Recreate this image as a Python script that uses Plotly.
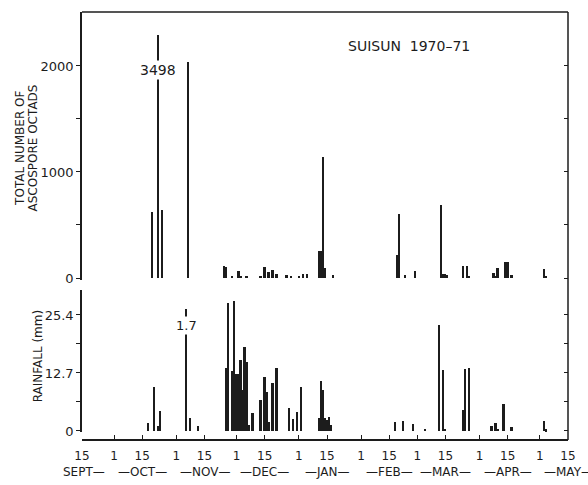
import plotly.graph_objects as go

# ---------------- data ----------------
octad_dates = ["1970-10-20", "1970-10-23", "1970-10-25", "1970-11-07",
               "1970-11-25", "1970-11-26", "1970-11-29", "1970-12-02", "1970-12-03", "1970-12-06",
               "1970-12-13", "1970-12-15", "1970-12-17", "1970-12-19", "1970-12-21",
               "1970-12-26", "1970-12-28", "1971-01-01", "1971-01-03", "1971-01-05",
               "1971-01-11", "1971-01-12", "1971-01-13", "1971-01-14", "1971-01-18",
               "1971-02-19", "1971-02-20", "1971-02-23", "1971-02-28",
               "1971-03-13", "1971-03-14", "1971-03-15", "1971-03-16",
               "1971-03-24", "1971-03-26", "1971-03-27",
               "1971-04-08", "1971-04-09", "1971-04-10", "1971-04-14", "1971-04-15", "1971-04-17",
               "1971-05-03", "1971-05-04"]
octad_vals = [625, 3498, 640, 2040,
              110, 100, 15, 70, 20, 15,
              15, 100, 55, 75, 40,
              30, 10, 10, 40, 40,
              250, 250, 1145, 95, 30,
              215, 600, 25, 70,
              690, 35, 40, 30,
              115, 110, 20,
              50, 20, 95, 150, 150, 30,
              85, 20]

rain_dates = ["1970-10-18", "1970-10-21", "1970-10-23", "1970-10-24",
              "1970-11-06", "1970-11-08", "1970-11-12",
              "1970-11-26", "1970-11-27", "1970-11-29", "1970-11-30",
              "1970-12-01", "1970-12-02", "1970-12-03", "1970-12-04", "1970-12-05", "1970-12-06",
              "1970-12-07", "1970-12-09", "1970-12-13", "1970-12-15", "1970-12-16", "1970-12-17",
              "1970-12-19", "1970-12-21", "1970-12-27", "1970-12-29", "1970-12-31",
              "1971-01-02", "1971-01-11", "1971-01-12", "1971-01-13", "1971-01-14",
              "1971-01-15", "1971-01-16", "1971-01-17",
              "1971-02-18", "1971-02-22", "1971-02-27", "1971-03-05",
              "1971-03-12", "1971-03-14", "1971-03-15",
              "1971-03-24", "1971-03-25", "1971-03-27",
              "1971-04-07", "1971-04-09", "1971-04-10", "1971-04-13", "1971-04-17",
              "1971-05-03", "1971-05-04"]
rain_vals = [1.7, 9.6, 1.0, 4.4,
             43.2, 2.9, 1.1,
             13.7, 28.0, 13.2, 28.5,
             12.4, 12.4, 15.5, 9.0, 18.5, 15.2,
             1.3, 3.9, 6.8, 11.9, 8.6, 2.0,
             10.6, 13.7, 5.0, 2.6, 4.2,
             9.7, 2.8, 11.0, 9.0, 2.8,
             2.5, 3.1, 1.3,
             2.0, 2.2, 1.6, 0.5,
             23.1, 13.4, 0.5,
             4.5, 13.6, 13.9,
             1.0, 1.8, 0.5, 6.0, 0.9,
             2.2, 0.4]

tick_dates = ["1970-09-15", "1970-10-01", "1970-10-15", "1970-11-01", "1970-11-15",
              "1970-12-01", "1970-12-15", "1971-01-01", "1971-01-15", "1971-02-01",
              "1971-02-15", "1971-03-01", "1971-03-15", "1971-04-01", "1971-04-15",
              "1971-05-01", "1971-05-15"]
tick_labels = ["15", "1", "15", "1", "15", "1", "15", "1", "15", "1",
               "15", "1", "15", "1", "15", "1", "15"]
month_dates = ["1970-09-16", "1970-10-15", "1970-11-15", "1970-12-15", "1971-01-15",
               "1971-02-15", "1971-03-15", "1971-04-15", "1971-05-15"]
month_labels = ["SEPT\u2014", "\u2014OCT\u2014", "\u2014NOV\u2014", "\u2014DEC\u2014",
                "\u2014JAN\u2014", "\u2014FEB\u2014", "\u2014MAR\u2014", "\u2014APR\u2014",
                "\u2014MAY\u2014"]

octad_ticks = [0, 500, 1000, 1500, 2000]
octad_ticktext = ["0", "", "1000", "", "2000"]
rain_ticks = [0, 6.35, 12.7, 19.05, 25.4]
rain_ticktext = ["0", "", "12.7", "", "25.4"]

# ---------------- style ----------------
INK = "#1c1c1c"
FONT = "DejaVu Sans"
DAY_MS = 86400000
BAR_W = 0.85 * DAY_MS

top_range = [-19, 2509]
bot_range = [-0.22, 30.87]
top_dom = [0.3738, 1.0]
bot_dom = [0.0187, 0.3505]

# bars taller than the axis are drawn broken at these heights
OCTAD_CAP = 2290
RAIN_CAP = 26.7


def shown(v, axis_max, cap):
    return cap if v > axis_max else v


fig = go.Figure()
fig.add_bar(x=octad_dates, y=[shown(v, top_range[1], OCTAD_CAP) for v in octad_vals], width=BAR_W,
            marker=dict(color=INK, line_width=0), xaxis="x", yaxis="y", showlegend=False)
fig.add_bar(x=rain_dates, y=[shown(v, bot_range[1], RAIN_CAP) for v in rain_vals], width=BAR_W,
            marker=dict(color=INK, line_width=0), xaxis="x", yaxis="y2", showlegend=False)
# dummy traces to activate the right-hand (inward tick) axes
fig.add_scatter(x=[tick_dates[0]], y=[None], xaxis="x", yaxis="y3", showlegend=False, hoverinfo="skip")
fig.add_scatter(x=[tick_dates[0]], y=[None], xaxis="x", yaxis="y4", showlegend=False, hoverinfo="skip")

axis_common = dict(showline=True, linecolor=INK, linewidth=1.5, showgrid=False, zeroline=False,
                   tickcolor=INK, tickwidth=1.2)

fig.update_layout(
    width=588, height=485,
    margin=dict(l=82, r=13, t=12, b=45),
    paper_bgcolor="white", plot_bgcolor="white",
    bargap=0, barmode="overlay",
    font=dict(family=FONT, color=INK),
    xaxis=dict(type="date", range=[tick_dates[0], tick_dates[-1]], anchor="free", position=0,
               tickvals=tick_dates, ticktext=tick_labels, ticks="inside", ticklen=4,
               ticklabelstandoff=5, tickfont=dict(family=FONT, size=12, color=INK),
               **axis_common),
    yaxis=dict(domain=top_dom, range=top_range, anchor="x", tickvals=octad_ticks,
               ticktext=octad_ticktext, ticks="outside", ticklen=4,
               tickfont=dict(family=FONT, size=13, color=INK), **axis_common),
    yaxis2=dict(domain=bot_dom, range=bot_range, anchor="x", tickvals=rain_ticks,
                ticktext=rain_ticktext, ticks="outside", ticklen=4,
                tickfont=dict(family=FONT, size=13, color=INK), **axis_common),
    yaxis3=dict(overlaying="y", side="right", anchor="x", range=top_range, tickvals=octad_ticks,
                showticklabels=False, ticks="inside", ticklen=4, showline=False, showgrid=False,
                zeroline=False, tickcolor=INK, tickwidth=1.2),
    yaxis4=dict(overlaying="y2", side="right", anchor="x", range=bot_range, tickvals=rain_ticks,
                showticklabels=False, ticks="inside", ticklen=4, showline=False, showgrid=False,
                zeroline=False, tickcolor=INK, tickwidth=1.2),
)

# frame: top and right borders
fig.add_shape(type="line", xref="paper", yref="paper", x0=0, x1=1, y0=1, y1=1,
              line=dict(color=INK, width=1.5))
fig.add_shape(type="line", xref="paper", yref="paper", x0=1, x1=1, y0=0, y1=1,
              line=dict(color=INK, width=1.5))

# broken-bar labels
for d, v in zip(octad_dates, octad_vals):
    if v > top_range[1]:
        fig.add_annotation(x=d, y=1960, xref="x", yref="y", text=str(v), showarrow=False,
                           xanchor="center", bgcolor="white",
                           font=dict(family=FONT, size=14, color=INK), borderpad=1)
for d, v in zip(rain_dates, rain_vals):
    if v > bot_range[1]:
        fig.add_annotation(x=d, y=23.0, xref="x", yref="y2", text=f"{v/25.4:.1f}", showarrow=False,
                           xanchor="center", bgcolor="white",
                           font=dict(family=FONT, size=13, color=INK), borderpad=1)

# title
fig.add_annotation(x=0.673, y=0.9206, xref="paper", yref="paper", text="SUISUN  1970\u201371",
                   xanchor="center", yanchor="middle", showarrow=False,
                   font=dict(family=FONT, size=14, color=INK))

# axis titles
fig.add_annotation(x=-0.128, y=0.682, xref="paper", yref="paper", text="TOTAL NUMBER OF",
                   xanchor="center", yanchor="middle", textangle=-90, showarrow=False,
                   font=dict(family=FONT, size=12, color=INK))
fig.add_annotation(x=-0.1, y=0.682, xref="paper", yref="paper", text="ASCOSPORE OCTADS",
                   xanchor="center", yanchor="middle", textangle=-90, showarrow=False,
                   font=dict(family=FONT, size=12, color=INK))
fig.add_annotation(x=-0.09, y=0.196, xref="paper", yref="paper", text="RAINFALL (mm)",
                   xanchor="center", yanchor="middle", textangle=-90, showarrow=False,
                   font=dict(family=FONT, size=12, color=INK))

# month labels
for d, t in zip(month_dates, month_labels):
    fig.add_annotation(x=d, y=-0.075, xref="x", yref="paper", text=t, showarrow=False,
                       xanchor="center", yanchor="middle",
                       font=dict(family=FONT, size=12, color=INK))

fig.write_html("out.html")
